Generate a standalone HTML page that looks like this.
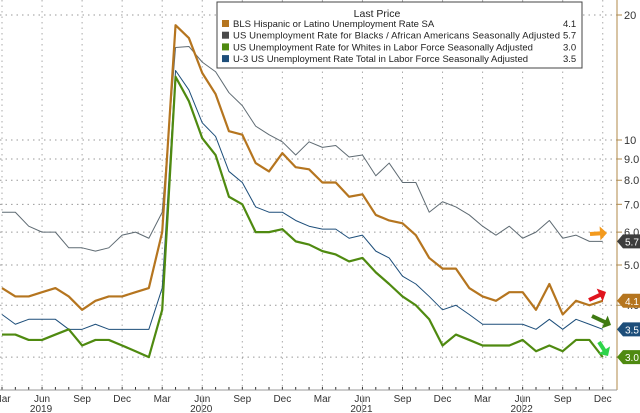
<!DOCTYPE html>
<html><head><meta charset="utf-8"><style>
body{margin:0;background:#fff;font-family:"Liberation Sans",sans-serif}
svg{display:block}
</style></head><body>
<svg id="c" width="640" height="413" font-family="Liberation Sans, sans-serif"></svg>
<script>
const hispanic=[4.4,4.2,4.2,4.3,4.4,4.2,3.9,4.1,4.2,4.2,4.3,4.4,6.0,18.9,17.6,14.5,12.9,10.5,10.3,8.8,8.4,9.3,8.6,8.5,7.9,7.9,7.3,7.4,6.6,6.4,6.3,5.9,5.2,4.9,4.9,4.4,4.2,4.1,4.3,4.3,3.9,4.5,3.8,4.1,4.0,4.1];
const black=[6.7,6.7,6.2,6.0,6.0,5.5,5.5,5.4,5.5,5.9,6.0,5.8,6.7,16.7,16.8,15.4,14.6,13.0,12.1,10.8,10.3,9.9,9.2,9.9,9.6,9.7,9.1,9.2,8.2,8.8,7.9,7.9,6.7,7.1,6.9,6.6,6.2,5.9,6.2,5.8,6.0,6.4,5.8,5.9,5.7,5.7];
const white=[3.4,3.4,3.3,3.3,3.4,3.5,3.2,3.3,3.3,3.2,3.1,3.0,3.9,14.2,12.4,10.1,9.2,7.3,7.0,6.0,6.0,6.1,5.7,5.6,5.4,5.3,5.1,5.2,4.8,4.5,4.2,4.0,3.7,3.2,3.4,3.3,3.2,3.2,3.2,3.3,3.1,3.2,3.1,3.3,3.3,3.0];
const total=[3.8,3.6,3.7,3.7,3.7,3.5,3.5,3.6,3.5,3.5,3.5,3.5,4.4,14.7,13.2,11.0,10.2,8.4,7.9,6.9,6.7,6.7,6.4,6.2,6.1,6.1,5.8,5.9,5.4,5.2,4.7,4.5,4.2,3.9,4.0,3.8,3.6,3.6,3.6,3.6,3.5,3.7,3.5,3.7,3.6,3.5];
const yTicks=[20,10,9,8,7,6,5,4,3];
const yTickLabels=["20","10","9.0","8.0","7.0","6.0","5.0","4.0","3.0"];
const monthLabels=["Mar","Jun","Sep","Dec"];
const yearLabels=["2019","2020","2021","2022"];
const lastVals=["4.1","5.7","3.0","3.5"];

const svg=document.getElementById('c');const NS='http://www.w3.org/2000/svg';
function el(t,a,p){const e=document.createElementNS(NS,t);for(const k in a)e.setAttribute(k,a[k]);(p||svg).appendChild(e);return e;}
const x=i=>2+13.35*i;
const y=v=>15+125*Math.log2(20/v);
const R=617,B=390;
// grid
yTicks.forEach((t,k)=>{const g=el('line',{x1:0,x2:R,y1:y(t),y2:y(t),stroke:'#999','stroke-dasharray':'1.5 4'});

const tk=el('line',{x1:R,x2:R+5,y1:y(t),y2:y(t),stroke:'#b08a4a'});
const tx=el('text',{x:R+7,y:y(t)+4,'font-size':11,fill:'#333'});tx.textContent=yTickLabels[k];
});
for(let i=0;i<46;i+=3){const g=el('line',{x1:x(i),x2:x(i),y1:0,y2:B,stroke:'#aaa','stroke-dasharray':'1.5 4'});

const t=el('text',{x:x(i),y:B+12,'font-size':10,fill:'#333','text-anchor':'middle'});t.textContent=monthLabels[(i/3)%4];
}
for(let i=0;i<46;i++)el('line',{x1:x(i),x2:x(i),y1:B-3,y2:B,stroke:'#333'});
yearLabels.forEach((yl,k)=>{const t=el('text',{x:x(3+12*k)-1,y:B+22,'font-size':10,fill:'#333','text-anchor':'middle'});t.textContent=yl;

if(k>0)el('line',{x1:x(12*k-3)+80,x2:x(12*k-3)+80,y1:B+5,y2:413,stroke:'#bbb'});});
el('line',{x1:R,x2:R,y1:0,y2:B,stroke:'#b08a4a'});
el('line',{x1:0,x2:R,y1:B,y2:B,stroke:'#999'});
// series
const series=[[black,'#5f6b73',1,'series-black'],[total,'#1d4e7a',1,'series-total'],[hispanic,'#b5751f',2.2,'series-hispanic'],[white,'#4f8a10',2.2,'series-white']];
series.forEach(([d,c,w,n])=>{const p=el('polyline',{points:d.map((v,i)=>x(i)+','+y(v)).join(' '),fill:'none',stroke:c,'stroke-width':w,'stroke-linejoin':'round'});
});
// badges
[[hispanic,'#b5751f',lastVals[0]],[black,'#3d3d3d',lastVals[1]],[white,'#4f8a10',lastVals[2]],[total,'#1d4e7a',lastVals[3]]].forEach(([d,c,l])=>{
const yy=y(d[d.length-1]);const g=el('g',{});
el('path',{d:`M${R} ${yy} L${R+6} ${yy-7} H640 V${yy+7} H${R+6} Z`,fill:c},g);
const t=el('text',{x:R+8,y:yy+4,'font-size':10,fill:'#fff'},g);t.textContent=l;});
// arrows
function arrow(x1,y1,x2,y2,c){const a=Math.atan2(y2-y1,x2-x1),s=7;
el('line',{x1,y1,x2:x2-Math.cos(a)*5,y2:y2-Math.sin(a)*5,stroke:c,'stroke-width':4});
el('polygon',{points:`${x2},${y2} ${x2-s*Math.cos(a)+s*Math.sin(a)},${y2-s*Math.sin(a)-s*Math.cos(a)} ${x2-s*Math.cos(a)-s*Math.sin(a)},${y2-s*Math.sin(a)+s*Math.cos(a)}`,fill:c});}
arrow(590,234,607,233,'#f39a1e');arrow(589,300,606,292,'#e0141e');arrow(592,316,611,325,'#3e7a12');arrow(599,342,608,356,'#2ed44a');
// legend
const lg=el('g',{});
el('rect',{x:217,y:2,width:365,height:66,fill:'#fff',stroke:'#444'},lg);
const h=el('text',{x:377,y:17,'font-size':10.5,fill:'#222','text-anchor':'middle'},lg);h.textContent='Last Price';
const names=['BLS Hispanic or Latino Unemployment Rate SA','US Unemployment Rate for Blacks / African Americans Seasonally Adjusted','US Unemployment Rate for Whites in Labor Force Seasonally Adjusted','U-3 US Unemployment Rate Total in Labor Force Seasonally Adjusted'];
const cols=['#b5751f','#4a4a4a','#4f8a10','#1d4e7a'];
names.forEach((n,k)=>{const yy=24+11.7*k;el('rect',{x:222,y:yy-4,width:7,height:7,fill:cols[k]},lg);
const t=el('text',{x:233,y:yy+3,'font-size':9.5,fill:'#222',textLength:k==1?327:null},lg);t.textContent=n;if(k!=1)t.removeAttribute('textLength');

const v=el('text',{x:563,y:yy+3,'font-size':9.5,fill:'#222'},lg);v.textContent=lastVals[k];});
</script>
</body></html>
